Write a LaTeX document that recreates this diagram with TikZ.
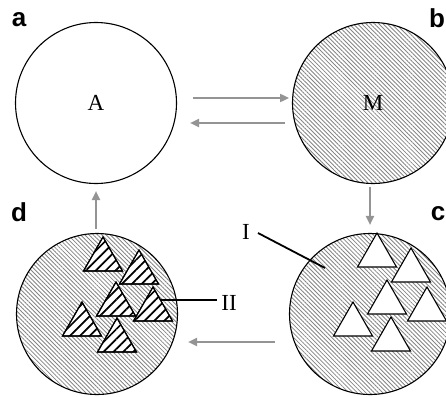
\documentclass[tikz,border=0pt]{standalone}
\usepackage{fontspec}
\setmainfont{Liberation Serif}
\newfontfamily\labfont{Liberation Sans}
\usetikzlibrary{patterns,patterns.meta,arrows.meta,calc}
\begin{document}
\begin{tikzpicture}[x=1pt,y=-1pt,
  cell/.style={circle,draw=black,line width=1.1pt,minimum size=161pt,inner sep=0pt,font=\fontsize{23}{23}\selectfont},
  hatched/.style={pattern={Lines[angle=-45,distance=3pt,line width=0.85pt]},pattern color=black!48},
  tri/.style={draw=black,line width=1.1pt,fill=white,line join=miter},
  hatchtri/.style={pattern={Lines[angle=45,distance=7pt,line width=1.7pt]},pattern color=black},
  arr/.style={draw=black!42,line width=2pt,-{Triangle[length=9pt,width=8pt]}},
  lead/.style={draw=black,line width=1.8pt},
  panel/.style={font=\labfont\bfseries\fontsize{26}{26}\selectfont,inner sep=0pt},
  lbl/.style={font=\fontsize{23}{23}\selectfont,inner sep=0pt}]
\useasboundingbox (0,0) rectangle (446,396);
% cells
\node[cell] (a) at (96,103) {A};
\node[cell,hatched] (b) at (373,103) {M};
\node[cell,hatched] (d) at (97,314) {};
\node[cell,hatched] (c) at (370,314) {};
% panel letters
\node[panel] (la) at (19,20) {a};
\node[panel] (lb) at (437,18) {b};
\node[panel] (ld) at (19,212) {d};
\node[panel] (lc) at (438,214) {c};
% triangles in c
\foreach \x/\y in {377/233,411/248,387/280,427/287,353/302,391/317}{
  \draw[tri] (\x,\y) -- ++(19.5,34) -- ++(-39,0) -- cycle;
}
% triangles in d
\foreach \x/\y in {103/237,139/250,116/282,153/287,82/302,117/318}{
  \draw[tri] (\x,\y) -- ++(19.5,34) -- ++(-39,0) -- cycle;
  \path[hatchtri] (\x,\y) -- ++(19.5,34) -- ++(-39,0) -- cycle;
  \draw[tri,fill=none] (\x,\y) -- ++(19.5,34) -- ++(-39,0) -- cycle;
}
% arrows
\draw[arr] ([shift={(16,-5)}]a.east) -- ([shift={(-3,-5)}]b.west);
\draw[arr] ([shift={(-7,20)}]b.west) -- ([shift={(13,20)}]a.east);
\draw[arr] ([shift={(-3,3)}]b.south) -- ([shift={(0,-8)}]c.north);
\draw[arr] ([shift={(-1,-4)}]d.north) -- ([shift={(0,7)}]a.south);
\draw[arr] ([shift={(-14,28)}]c.west) -- ([shift={(10,28)}]d.east);
% leaders
\node[lbl] (lI) at (246,232) {I};
\coordinate (pI) at (325,268);
\draw[lead] (258,233) -- (pI);
\node[lbl] (lII) at (229,303) {II};
\coordinate (pII) at (160,300);
\draw[lead] (lII.west) ++(-4,-3) -- (pII);
\end{tikzpicture}
\end{document}
